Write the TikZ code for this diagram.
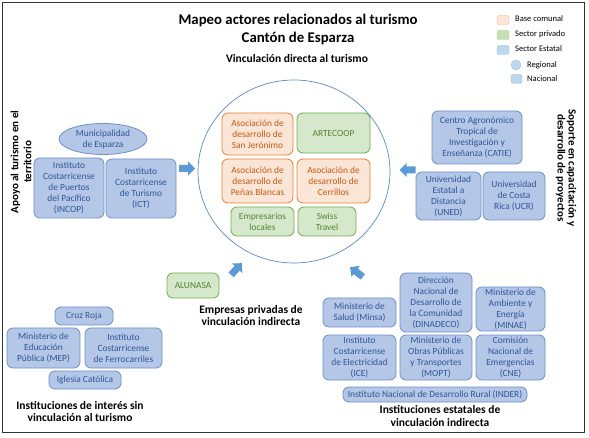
\documentclass[tikz,border=0pt]{standalone}
\usepackage{fontspec}
\setmainfont{Carlito}
\usetikzlibrary{shapes.geometric}
\definecolor{bfill}{HTML}{B4C7E7}
\definecolor{bdraw}{HTML}{6F8FC9}
\definecolor{btext}{HTML}{2F5597}
\definecolor{ofill}{HTML}{FBE5D6}
\definecolor{odraw}{HTML}{ED7D31}
\definecolor{otext}{HTML}{C55A11}
\definecolor{gfill}{HTML}{D5E8CB}
\definecolor{gdraw}{HTML}{70AD47}
\definecolor{gtext}{HTML}{548235}
\definecolor{arrowblue}{HTML}{5B9BD5}
\definecolor{circblue}{HTML}{5B87C5}
\definecolor{legodraw}{HTML}{F4B183}
\definecolor{leggfill}{HTML}{C5E0B4}
\definecolor{leggdraw}{HTML}{A9D18E}
\definecolor{legbfill}{HTML}{BDD7EE}
\definecolor{legbdraw}{HTML}{9DC3E6}
\tikzset{
  boxbase/.style={rounded corners=6pt, line width=0.8pt, align=center, inner sep=1pt,
    font=\fontsize{9.4}{11}\selectfont},
  bluebox/.style={boxbase, fill=bfill, draw=bdraw, text=btext},
  orangebox/.style={boxbase, fill=ofill, draw=odraw, text=otext},
  greenbox/.style={boxbase, fill=gfill, draw=gdraw, text=gtext},
  sz/.style 2 args={minimum width=#1pt, minimum height=#2pt},
  heading/.style={font=\bfseries\fontsize{11.5}{12.5}\selectfont, align=center},
  legtext/.style={font=\fontsize{8.5}{10}\selectfont, anchor=west, inner sep=0pt},
  legbox/.style={rounded corners=2pt, minimum width=12pt, minimum height=9pt, inner sep=0pt},
  blockarrow/.pic={\fill[arrowblue] (-8,-3.5) -- (1,-3.5) -- (1,-7) -- (8,0) -- (1,7) -- (1,3.5) -- (-8,3.5) -- cycle;}
}
\begin{document}
\begin{tikzpicture}[x=1pt,y=-1pt]
\useasboundingbox (0,0) rectangle (589,438);
\draw[line width=0.8pt, black!80] (2,2) rectangle (584,432);

% titles
\node[font=\bfseries\fontsize{14.8}{18}\selectfont, align=center] (title) at (298,29) {Mapeo actores relacionados al turismo\\Cantón de Esparza};
\node[font=\bfseries\fontsize{11.5}{12}\selectfont] (sub) at (297,59) {Vinculación directa al turismo};

% legend
\node[legbox, fill=ofill, draw=legodraw] (l1) at (503,20) {};
\node[legbox, fill=leggfill, draw=leggdraw] (l2) at (503,35) {};
\node[legbox, fill=legbfill, draw=legbdraw] (l3) at (503,50) {};
\node[circle, fill=legbfill, draw=legbdraw, minimum size=10pt, inner sep=0pt] (l4) at (516,65) {};
\node[legbox, fill=legbfill, draw=legbdraw, minimum width=11pt, rounded corners=1.5pt] (l5) at (516.5,79) {};
\node[legtext] (t1) at (515,19) {Base comunal};
\node[legtext] (t2) at (515,34) {Sector privado};
\node[legtext] (t3) at (515,49) {Sector Estatal};
\node[legtext] (t4) at (527,65) {Regional};
\node[legtext] (t5) at (527,79) {Nacional};

% central circle
\draw[circblue, line width=0.7pt] (294,171.5) ellipse [x radius=96, y radius=91.5];
\node[orangebox, sz={71}{42}] (sanjer) at (257.5,134) {Asociación de\\desarrollo de\\San Jerónimo};
\node[greenbox, sz={73}{40}] (artecoop) at (333.5,133) {ARTECOOP};
\node[orangebox, sz={71}{44}] (penas) at (257.5,181) {Asociación de\\desarrollo de\\Peñas Blancas};
\node[orangebox, sz={73}{44}] (cerrillos) at (333.5,181) {Asociación de\\desarrollo de\\Cerrillos};
\node[greenbox, sz={63}{29}] (empresarios) at (262.5,221.5) {Empresarios\\locales};
\node[greenbox, sz={58}{29}] (swiss) at (327,221.5) {Swiss\\Travel};

% left group
\node[ellipse, fill=bfill, draw=bdraw, line width=0.8pt, text=btext, align=center, inner sep=0pt, minimum width=88pt, minimum height=31pt, font=\fontsize{9.4}{11}\selectfont] (muni) at (103,139) {Municipalidad\\de Esparza};
\node[bluebox, sz={70}{60}] (incop) at (69,188) {Instituto\\Costarricense\\de Puertos\\del Pacífico\\(INCOP)};
\node[bluebox, sz={70}{59}] (ict) at (141,188.5) {Instituto\\Costarricense\\de Turismo\\(ICT)};
\node[heading, rotate=90, font=\bfseries\fontsize{11}{13}\selectfont] (lefttitle) at (21,162) {Apoyo al turismo en el\\territorio};

% right group
\node[bluebox, sz={90}{53}] (catie) at (477,137.5) {Centro Agronómico\\Tropical de\\Investigación y\\Enseñanza (CATIE)};
\node[bluebox, sz={65}{48}] (uned) at (448.5,196) {Universidad\\Estatal a\\Distancia\\(UNED)};
\node[bluebox, sz={62}{48}] (ucr) at (514,196) {Universidad\\de Costa\\Rica (UCR)};
\node[heading, rotate=-90, font=\bfseries\fontsize{11}{11}\selectfont] (righttitle) at (566,168) {Soporte en capacitación y\\desarrollo de proyectos};

% bottom left group
\node[bluebox, sz={58}{18}] (cruz) at (84,316) {Cruz Roja};
\node[bluebox, sz={73}{40}] (mep) at (43.5,348) {Ministerio de\\Educación\\Pública (MEP)};
\node[bluebox, sz={77}{40}] (ferro) at (123.5,348) {Instituto\\Costarricense\\de Ferrocarriles};
\node[bluebox, sz={72}{18}] (iglesia) at (85,380) {Iglesia Católica};
\node[heading] (bltitle) at (80,411.5) {Instituciones de interés sin\\vinculación al turismo};

% private indirect
\node[greenbox, sz={52}{25}] (alunasa) at (193,285.5) {ALUNASA};
\node[heading] (privtitle) at (251,315.5) {Empresas privadas de\\vinculación indirecta};

% bottom right group
\node[bluebox, sz={73}{29}] (minsa) at (359.5,312.5) {Ministerio de\\Salud (Minsa)};
\node[bluebox, sz={72}{59}] (dinadeco) at (436,302.5) {Dirección\\Nacional de\\Desarrollo de\\la Comunidad\\(DINADECO)};
\node[bluebox, sz={69}{44}] (minae) at (510.5,309) {Ministerio de\\Ambiente y\\Energía\\(MINAE)};
\node[bluebox, sz={73}{45}] (ice) at (359.5,357.5) {Instituto\\Costarricense\\de Electricidad\\(ICE)};
\node[bluebox, sz={72}{45}] (mopt) at (436,357.5) {Ministerio de\\Obras Públicas\\y Transportes\\(MOPT)};
\node[bluebox, sz={69}{45}] (cne) at (510.5,357.5) {Comisión\\Nacional de\\Emergencias\\(CNE)};
\node[bluebox, minimum width=184pt, minimum height=15pt] (inder) at (435,394.5) {Instituto Nacional de Desarrollo Rural (INDER)};
\node[heading] (brtitle) at (440,416) {Instituciones estatales de\\vinculación indirecta};

% block arrows
\pic at (187,168.5) {blockarrow};
\pic[rotate=180] at (407.5,170) {blockarrow};
\pic[rotate=47] at (236.5,269) {blockarrow};
\pic[rotate=143] at (356.5,272) {blockarrow};
\end{tikzpicture}
\end{document}
